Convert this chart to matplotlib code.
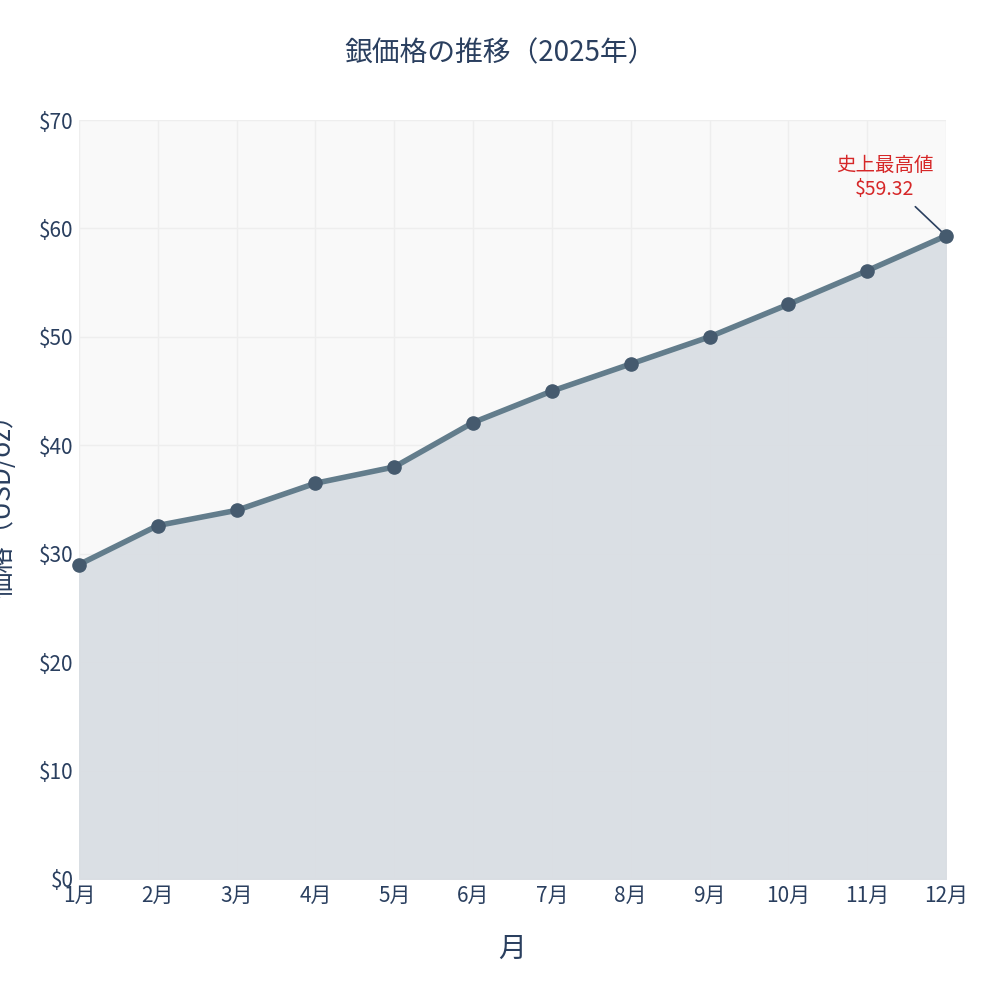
import matplotlib
matplotlib.use("Agg")
import matplotlib.pyplot as plt

plt.rcParams['font.family'] = ['Noto Sans CJK JP', 'DejaVu Sans']

months = ["1月","2月","3月","4月","5月","6月","7月","8月","9月","10月","11月","12月"]
prices = [29.0, 32.6, 34.0, 36.5, 38.0, 42.1, 45.0, 47.5, 50.0, 53.0, 56.1, 59.32]
yticks = [0, 10, 20, 30, 40, 50, 60, 70]

fig = plt.figure(figsize=(10, 10), dpi=100)
ax = fig.add_axes([0.079, 0.121, 0.867, 0.759])
ax.set_facecolor('#f9f9f9')
x = list(range(len(months)))
ax.grid(True, color='#eeeeee', lw=1.0, zorder=0)
ax.set_axisbelow(True)
ax.fill_between(x, prices, 0, color='#d9dee3', alpha=0.95, zorder=1)
ax.plot(x, prices, color='#637d8c', lw=4, zorder=3, clip_on=False)
ax.scatter(x, prices, s=90, color='#455a6e', zorder=4, clip_on=False)
ax.set_xlim(0, 11)
ax.set_ylim(0, 70)
ax.set_xticks(x)
ax.set_xticklabels(months)
ax.set_yticks(yticks)
ax.set_yticklabels([f"${v}" for v in yticks])
ax.tick_params(length=0, labelsize=15, colors='#2a3f5f', pad=4)
for s in ax.spines.values():
    s.set_visible(False)
ax.set_xlabel("月", fontsize=20, color='#2a3f5f', labelpad=20)
ax.set_ylabel("価格（USD/oz）", fontsize=19, color='#2a3f5f', labelpad=2)
ax.yaxis.set_label_coords(-0.072, 0.5)
fig.suptitle("銀価格の推移（2025年）", y=0.962, fontsize=20, color='#2a3f5f')
ax.annotate("史上最高値\n$59.32", xy=(11, prices[-1]), xytext=(10.22, 64.7),
            ha='center', va='center', color='#d62728', fontsize=14,
            arrowprops=dict(arrowstyle='-', color='#2a3f5f', lw=1.2, shrinkA=4, shrinkB=4))
fig.savefig("out.png")
